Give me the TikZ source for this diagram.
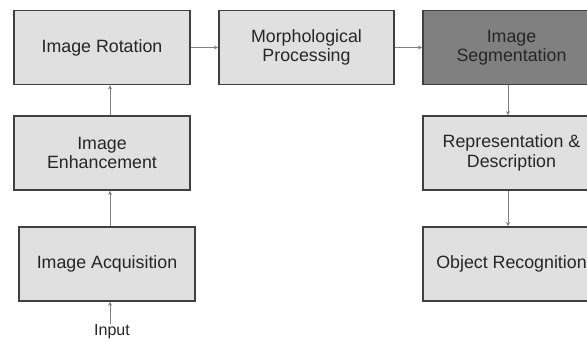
\documentclass[tikz,border=0pt]{standalone}
\usepackage{fontspec}
\setmainfont{Liberation Sans}
\usetikzlibrary{arrows.meta,calc}
\begin{document}
\begin{tikzpicture}[x=1pt,y=1pt,
  box/.style={draw=black!75, line width=1.8pt, fill=black!12, minimum width=176pt, minimum height=74pt,
    inner sep=0pt, align=center, text=black!85, font=\fontsize{17.8}{19.5}\selectfont},
  darkbox/.style={box, fill=black!50},
  conn/.style={draw=black!50, line width=1pt, -{Stealth[length=4pt,width=4pt]}}]
\useasboundingbox (0,0) rectangle (587,341);
\fill[white] (0,0) rectangle (587,341);
\node[box] (rot) at (102,293.5) {Image Rotation};
\node[box] (enh) at (102,188) {Image\\Enhancement};
\node[box] (acq) at (107,77) {Image Acquisition};
\node[box, minimum width=175pt] (mor) at (306.5,293.5) {Morphological\\Processing};
\node[darkbox, minimum width=177pt] (seg) at (511.5,293.5) {Image\\Segmentation};
\node[box, minimum width=177pt] (rep) at (511.5,188) {Representation \&\\Description};
\node[box, minimum width=177pt] (obj) at (511.5,77) {Object Recognition};
\node[text=black!85, font=\fontsize{16}{18}\selectfont, inner sep=1pt] (inp) at (112,9) {Input};
\coordinate (lx) at (110,0);
\coordinate (rx) at (508,0);
\draw[conn] (inp.north -| lx) -- (acq.south -| lx);
\draw[conn] (acq.north -| lx) -- (enh.south -| lx);
\draw[conn] (enh.north -| lx) -- (rot.south -| lx);
\draw[conn] (rot.east) -- (mor.west);
\draw[conn] (mor.east) -- (seg.west);
\draw[conn] (seg.south -| rx) -- (rep.north -| rx);
\draw[conn] (rep.south -| rx) -- (obj.north -| rx);
\end{tikzpicture}
\end{document}
